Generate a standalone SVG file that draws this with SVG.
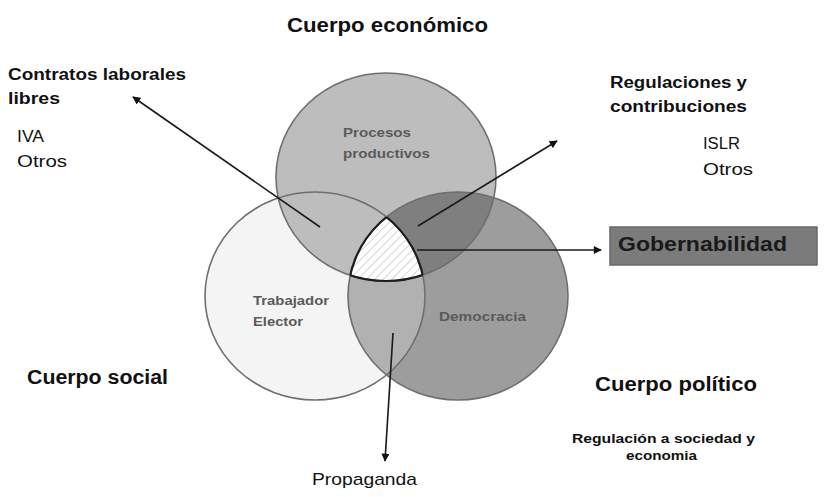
<svg xmlns="http://www.w3.org/2000/svg" xmlns:xlink="http://www.w3.org/1999/xlink" width="833" height="497" viewBox="0 0 833 497">
<style>
.lbl{font-family:"Liberation Sans",Arial,sans-serif;fill:#111}
.b{font-weight:bold}
.in{font-family:"Liberation Sans",Arial,sans-serif;font-weight:bold;fill:#5a5a5a;font-size:13px}
.ring{fill:none;stroke:#6e6e6e;stroke-width:1.6}
.core{fill:none;stroke:#1e1e1e;stroke-width:2.2}
.con{stroke:#1a1a1a;stroke-width:1.6;fill:none;marker-end:url(#ah)}
</style>
<defs>
<ellipse id="eT" cx="386" cy="177" rx="110" ry="104"/>
<ellipse id="eL" cx="315" cy="296" rx="110" ry="104"/>
<ellipse id="eR" cx="458" cy="296" rx="110" ry="104"/>
<clipPath id="cT"><use xlink:href="#eT"/></clipPath>
<clipPath id="cL"><use xlink:href="#eL"/></clipPath>
<clipPath id="cR"><use xlink:href="#eR"/></clipPath>
<pattern id="hatch" patternUnits="userSpaceOnUse" width="6" height="6" patternTransform="rotate(45)">
<rect width="6" height="6" fill="#ffffff"/>
<line x1="0" y1="0" x2="0" y2="6" stroke="#c4c4c4" stroke-width="1.4"/>
</pattern>
<marker id="ah" viewBox="0 0 10 10" refX="9" refY="5" markerWidth="9" markerHeight="8" orient="auto" markerUnits="userSpaceOnUse">
<path d="M0,0 L10,5 L0,10 z" fill="#111"/>
</marker>
</defs>
<rect width="833" height="497" fill="#ffffff"/>

<g id="circle-social">
<use xlink:href="#eL" fill="#f4f4f4"/>
</g>
<g id="circle-economico">
<use xlink:href="#eT" fill="#bdbdbd"/>
</g>
<g id="circle-politico">
<use xlink:href="#eR" fill="#9d9d9d"/>
</g>
<g id="overlaps">
<use xlink:href="#eR" fill="#7f7f7f" clip-path="url(#cT)"/>
<use xlink:href="#eR" fill="#b1b1b1" clip-path="url(#cL)"/>
<g clip-path="url(#cL)"><use xlink:href="#eT" fill="url(#hatch)" clip-path="url(#cR)"/></g>
</g>
<g id="outlines">
<use xlink:href="#eL" class="ring"/>
<use xlink:href="#eT" class="ring"/>
<use xlink:href="#eR" class="ring"/>
<g clip-path="url(#cL)"><use xlink:href="#eT" class="core" clip-path="url(#cR)"/></g>
<g clip-path="url(#cT)"><use xlink:href="#eL" class="core" clip-path="url(#cR)"/></g>
<g clip-path="url(#cT)"><use xlink:href="#eR" class="core" clip-path="url(#cL)"/></g>
</g>

<g id="connectors">
<line class="con" x1="320" y1="227" x2="133" y2="97"/>
<line class="con" x1="418" y1="226" x2="557" y2="141"/>
<line class="con" x1="417" y1="250" x2="601" y2="250"/>
<line class="con" x1="393" y1="333" x2="385" y2="461"/>
</g>

<g id="label-procesos">
<text class="in" x="343" y="137" textLength="68" lengthAdjust="spacingAndGlyphs">Procesos</text>
<text class="in" x="343" y="158" textLength="87" lengthAdjust="spacingAndGlyphs">productivos</text>
</g>
<g id="label-trabajador">
<text class="in" x="253" y="305" textLength="76" lengthAdjust="spacingAndGlyphs">Trabajador</text>
<text class="in" x="253" y="326" textLength="50" lengthAdjust="spacingAndGlyphs">Elector</text>
</g>
<g id="label-democracia">
<text class="in" x="439" y="321" textLength="87" lengthAdjust="spacingAndGlyphs">Democracia</text>
</g>

<g id="cuerpo-economico">
<text class="lbl b" x="287" y="32" font-size="21" textLength="201" lengthAdjust="spacingAndGlyphs">Cuerpo económico</text>
</g>
<g id="contratos">
<text class="lbl b" x="8" y="80" font-size="17" textLength="178" lengthAdjust="spacingAndGlyphs">Contratos laborales</text>
<text class="lbl b" x="8" y="104" font-size="17" textLength="52" lengthAdjust="spacingAndGlyphs">libres</text>
<text class="lbl" x="17" y="142" font-size="16" textLength="27" lengthAdjust="spacingAndGlyphs">IVA</text>
<text class="lbl" x="17" y="167" font-size="16" textLength="50" lengthAdjust="spacingAndGlyphs">Otros</text>
</g>
<g id="regulaciones">
<text class="lbl b" x="610" y="88" font-size="16" textLength="137" lengthAdjust="spacingAndGlyphs">Regulaciones y</text>
<text class="lbl b" x="610" y="112" font-size="16" textLength="137" lengthAdjust="spacingAndGlyphs">contribuciones</text>
<text class="lbl" x="703" y="149" font-size="16" textLength="37" lengthAdjust="spacingAndGlyphs">ISLR</text>
<text class="lbl" x="703" y="175" font-size="16" textLength="50" lengthAdjust="spacingAndGlyphs">Otros</text>
</g>
<g id="gobernabilidad">
<rect x="610" y="227" width="207" height="38" fill="#7b7b7b" stroke="#686868" stroke-width="1.5"/>
<text class="b" x="618" y="251" font-size="21" font-family="Liberation Sans, Arial, sans-serif" fill="#1a1a1a" textLength="169" lengthAdjust="spacingAndGlyphs">Gobernabilidad</text>
</g>
<g id="cuerpo-social">
<text class="lbl b" x="27" y="384" font-size="20" textLength="141" lengthAdjust="spacingAndGlyphs">Cuerpo social</text>
</g>
<g id="cuerpo-politico">
<text class="lbl b" x="595" y="391" font-size="20" textLength="162" lengthAdjust="spacingAndGlyphs">Cuerpo político</text>
<text class="lbl b" x="572" y="443" font-size="12" fill="#222" textLength="183" lengthAdjust="spacingAndGlyphs">Regulación a sociedad  y</text>
<text class="lbl b" x="626" y="460" font-size="12" fill="#222" textLength="71" lengthAdjust="spacingAndGlyphs">economia</text>
</g>
<g id="propaganda">
<text class="lbl" x="312" y="485" font-size="17" textLength="105" lengthAdjust="spacingAndGlyphs">Propaganda</text>
</g>
</svg>
